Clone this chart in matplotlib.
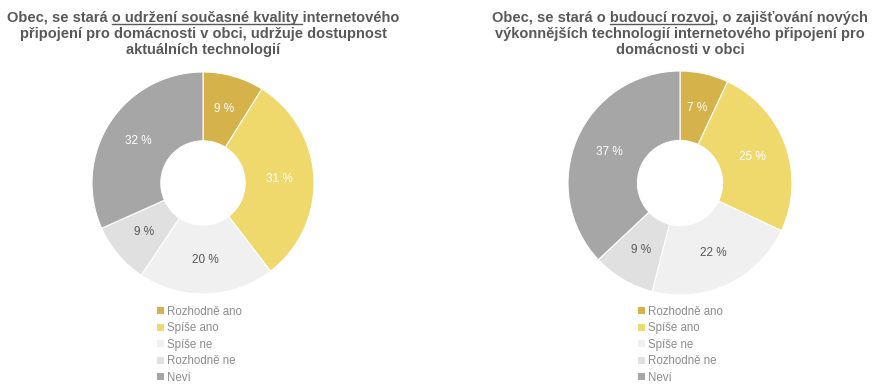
import matplotlib.pyplot as plt
import numpy as np
from matplotlib.patches import Patch
from matplotlib.lines import Line2D

plt.rcParams['font.family'] = ['Liberation Sans', 'DejaVu Sans']

categories = ['Rozhodně ano', 'Spíše ano', 'Spíše ne', 'Rozhodně ne', 'Neví']
left_values = [9, 31, 20, 9, 32]
right_values = [7, 25, 22, 9, 37]
colors = ['#D5B34A', '#EFD96D', '#F0F0F0', '#E0E0E0', '#A6A6A6']
label_colors = ['white', 'white', '#595959', '#595959', 'white']

W, H = 883, 389
fig = plt.figure(figsize=(W / 100, H / 100), dpi=100)


def donut(cx, cy, r, values):
    ax = fig.add_axes([(cx - r) / W, (H - cy - r) / H, 2 * r / W, 2 * r / H])
    ax.pie(values, colors=colors, startangle=90, counterclock=False, radius=1,
           wedgeprops=dict(width=0.62, edgecolor='white', linewidth=0.8))
    total = sum(values)
    ang = 90.0
    for v, c in zip(values, label_colors):
        mid = ang - v / total * 360 / 2
        ang -= v / total * 360
        rr = 0.69
        ax.text(rr * np.cos(np.radians(mid)), rr * np.sin(np.radians(mid)), f'{v} %',
                ha='center', va='center', color=c, fontsize=8.5)
    ax.set_xlim(-1, 1)
    ax.set_ylim(-1, 1)
    ax.set_aspect('equal')
    ax.axis('off')


def title(cx, lines, underline):
    renderer = fig.canvas.get_renderer()
    kw = dict(fontsize=10.5, fontweight='bold', color='#595959')
    for i, line in enumerate(lines):
        base = 22 + 16.2 * i
        t = fig.text(cx / W, 1 - base / H, line, ha='center', va='baseline', **kw)
        if i == 0:
            fb = t.get_window_extent(renderer)
            pre, und = underline
            tmp = fig.text(0, 0, pre, **kw)
            x0 = fb.x0 + tmp.get_window_extent(renderer).width
            tmp.set_text(pre + und)
            x1 = fb.x0 + tmp.get_window_extent(renderer).width
            tmp.remove()
            uy = 1 - (base + 1.8) / H
            fig.add_artist(Line2D([x0 / W, x1 / W], [uy, uy], color='#595959', lw=1))


def legend(x, y):
    handles = [Patch(facecolor=c, edgecolor='none') for c in colors]
    fig.legend(handles, categories, loc='upper left', bbox_to_anchor=(x / W, 1 - y / H),
               frameon=False, fontsize=8.3, handlelength=0.6, handleheight=0.6,
               handletextpad=0.25, labelspacing=0.39, borderpad=0, labelcolor='#8C8C8C')


donut(203, 183, 111, left_values)
donut(680, 183, 112, right_values)

title(203, ['Obec, se stará o udržení současné kvality internetového',
            'připojení pro domácnosti v obci, udržuje dostupnost',
            'aktuálních technologií'],
      ('Obec, se stará ', 'o udržení současné kvality '))
title(680, ['Obec, se stará o budoucí rozvoj, o zajišťování nových',
            'výkonnějších technologií internetového připojení pro',
            'domácnosti v obci'],
      ('Obec, se stará o ', 'budoucí rozvoj'))

legend(151, 300)
legend(632, 300)

fig.savefig('out.png', dpi=100)
